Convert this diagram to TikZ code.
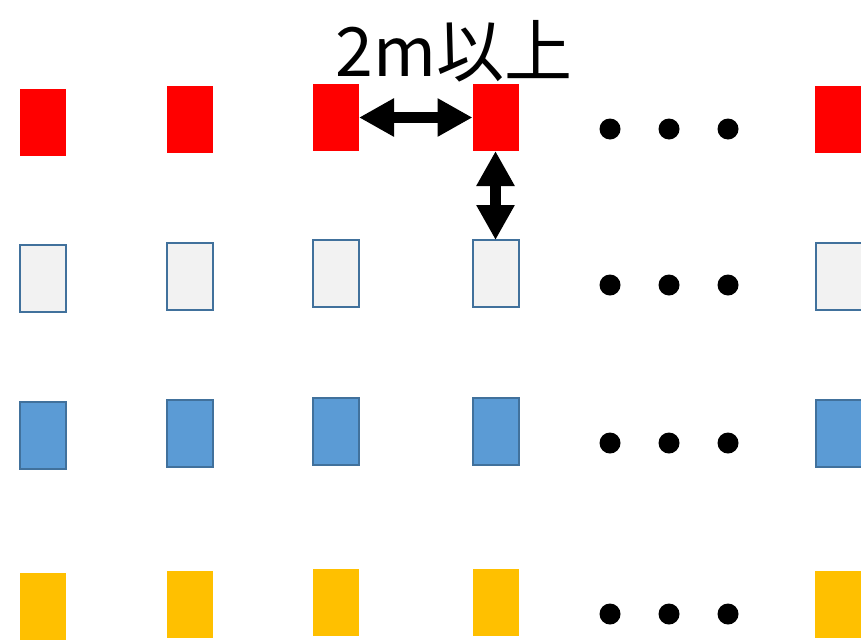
\documentclass[tikz,border=0pt]{standalone}
\usepackage{fontspec}
\newfontfamily\jpfont{Noto Sans CJK JP}
\usetikzlibrary{arrows.meta}
\definecolor{boxred}{HTML}{FF0000}
\definecolor{boxgray}{HTML}{F2F2F2}
\definecolor{boxblue}{HTML}{5B9BD5}
\definecolor{boxyellow}{HTML}{FFC000}
\definecolor{boxedge}{HTML}{41719C}
\tikzset{
  box/.style={minimum width=46, minimum height=67, inner sep=0, outer sep=0},
  redbox/.style={box, fill=boxred},
  graybox/.style={box, fill=boxgray, draw=boxedge, line width=2},
  bluebox/.style={box, fill=boxblue, draw=boxedge, line width=2},
  yellowbox/.style={box, fill=boxyellow},
  dot/.style={circle, fill=black, minimum size=21, inner sep=0},
  gap/.style={line width=11, {Triangle[length=35,width=36]}-{Triangle[length=35,width=36]}}
}
\begin{document}
\begin{tikzpicture}[x=1pt,y=-1pt]
\useasboundingbox (0,0) rectangle (861,643);
\clip (0,0) rectangle (861,643);
% red row
\node[redbox] (r1) at (42.5,122) {};
\node[redbox] (r2) at (189.5,119.5) {};
\node[redbox] (r3) at (336,117.5) {};
\node[redbox] (r4) at (495.5,117.5) {};
\node[redbox] (r6) at (838,119.5) {};
% gray row
\node[graybox] (g1) at (42.5,278) {};
\node[graybox] (g2) at (189.5,276.5) {};
\node[graybox] (g3) at (336,273.5) {};
\node[graybox] (g4) at (495.5,273.5) {};
\node[graybox] (g6) at (838.5,276) {};
% blue row
\node[bluebox] (b1) at (42.5,435) {};
\node[bluebox] (b2) at (189.5,433) {};
\node[bluebox] (b3) at (336,431) {};
\node[bluebox] (b4) at (495.5,431) {};
\node[bluebox] (b6) at (838.5,433.5) {};
% yellow row
\node[yellowbox] (y1) at (42.5,606) {};
\node[yellowbox] (y2) at (189.5,604) {};
\node[yellowbox] (y3) at (336,602) {};
\node[yellowbox] (y4) at (495.5,602) {};
\node[yellowbox] (y6) at (838,604.5) {};
% ellipsis dots
\foreach \r/\yy in {1/129, 2/285, 3/443, 4/614}{
  \node[dot] (d\r a) at (610,\yy) {};
  \node[dot] (d\r b) at (669,\yy) {};
  \node[dot] (d\r c) at (728,\yy) {};
}
% spacing arrows
\draw[gap] (r3.east) -- (r4.west);
\draw[gap] (r4.south) -- (g4.north);
% label
\node[font=\jpfont\fontsize{68}{68}\selectfont, inner sep=0] (lbl) at (454,51) {2m以上};
\end{tikzpicture}
\end{document}
